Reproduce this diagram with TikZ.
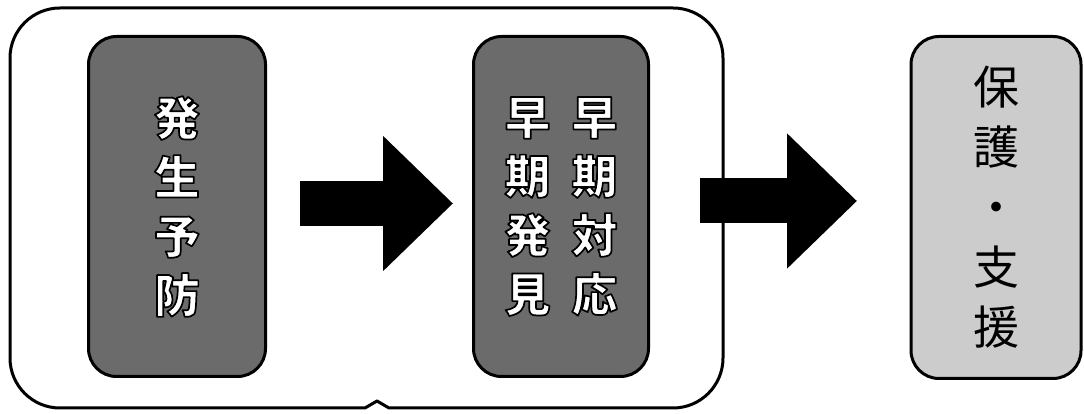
\documentclass[tikz,border=0pt]{standalone}
\usepackage{fontspec}
\usetikzlibrary{arrows.meta}
\newfontfamily\jp{Noto Sans CJK JP}
% white glyphs with a black outline (PDF text render mode 2: fill + stroke)
\newcommand\olc[1]{\special{pdf:code q 2 Tr 1.7 w 1 j 0 0 0 RG}#1\special{pdf:code Q}}
\begin{document}
\begin{tikzpicture}[x=1pt,y=1pt,
  stagebox/.style={draw=black, line width=3pt, rounded corners=28pt, inner sep=0pt, align=center},
  darkbox/.style={stagebox, fill=black!58, text=white, font=\jp\bfseries\fontsize{46}{59}\selectfont},
  lightbox/.style={stagebox, fill=black!20, text=black, font=\jp\fontsize{46}{60}\selectfont},
  bigarrow/.style={line width=45pt, -{Triangle[length=70pt,width=131pt]}, draw=black}
]
\useasboundingbox (0,0) rectangle (1084,414);
% group frame
\draw[line width=3pt, line join=round]
  (60,406) -- (673,406) arc[start angle=90,end angle=0,radius=50]
  -- (723,56) arc[start angle=0,end angle=-90,radius=50]
  -- (389,6) -- (377,13) -- (365,6) -- (60,6)
  arc[start angle=270,end angle=180,radius=50]
  -- (10,356) arc[start angle=180,end angle=90,radius=50] -- cycle;
% boxes
\node[darkbox, minimum width=177pt, minimum height=340pt] (prev) at (177,207.5)
  {\olc{発}\\\olc{生}\\\olc{予}\\\olc{防}};
\node[darkbox, minimum width=175pt, minimum height=340pt] (early) at (561,207.5)
  {\olc{早\hspace{21pt}早}\\\olc{期\hspace{21pt}期}\\\olc{発\hspace{21pt}対}\\\olc{見\hspace{21pt}応}};
\node[lightbox, minimum width=170pt, minimum height=342pt] (support) at (996,206.5)
  {保\\護\\・\\支\\援};
% arrows
\coordinate (a1s) at (300,210.5);
\coordinate (a1e) at (453,210.5);
\coordinate (a2s) at (700,213);
\coordinate (a2e) at (857,213);
\draw[bigarrow] (a1s) -- (a1e);
\draw[bigarrow] (a2s) -- (a2e);
\end{tikzpicture}
\end{document}
